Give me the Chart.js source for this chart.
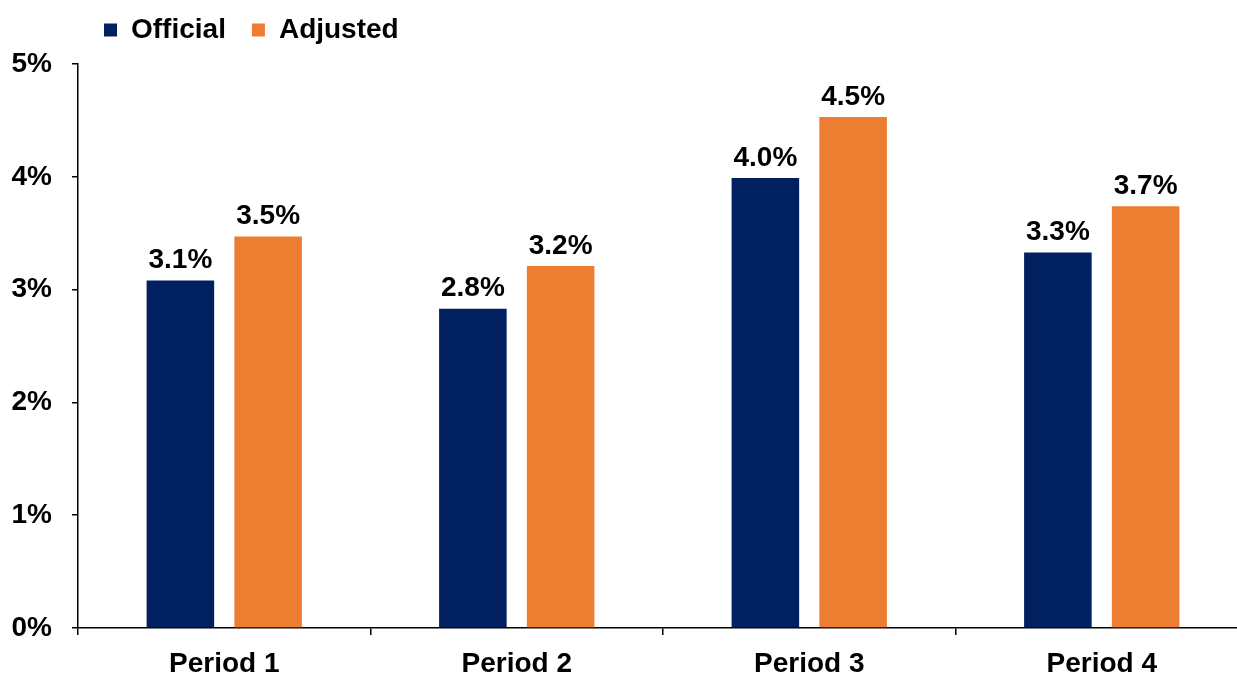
<!DOCTYPE html>
<html>
<head>
<meta charset="utf-8">
<title>Official vs Adjusted</title>
<script src="https://cdn.jsdelivr.net/npm/chart.js@4/dist/chart.umd.min.js"></script>
<style>
    html, body { margin: 0; padding: 0; background: #fff; overflow: hidden; }
    /* the plot runs a little past the right edge, as in the original */
    #wrap { width: 1237px; height: 677px; overflow: hidden; }
</style>
</head>
<body>
<div id="wrap"><canvas id="myBarChart" width="1248" height="677"></canvas></div>
<script>
// Chart data
const categories = ['Period 1', 'Period 2', 'Period 3', 'Period 4'];
const officialValues = [3.08, 2.83, 3.99, 3.33];
const adjustedValues = [3.47, 3.21, 4.53, 3.74];
const officialLabels = ['3.1%', '2.8%', '4.0%', '3.3%'];
const adjustedLabels = ['3.5%', '3.2%', '4.5%', '3.7%'];
const yTicks = [0, 1, 2, 3, 4, 5];

const FONT = '"Liberation Sans", Arial, sans-serif';

// Draw value labels above bars
const barLabels = {
    id: 'barLabels',
    afterDatasetsDraw(chart) {
        const ctx = chart.ctx;
        ctx.save();
        ctx.font = 'bold 28px ' + FONT;
        ctx.fillStyle = '#000';
        ctx.textAlign = 'center';
        ctx.textBaseline = 'bottom';
        chart.data.datasets.forEach((ds, i) => {
            const meta = chart.getDatasetMeta(i);
            meta.data.forEach((bar, j) => {
                ctx.fillText(ds.valueLabels[j], bar.x, bar.y - 6);
            });
        });
        ctx.restore();
    }
};

// Move the legend so it starts over the plot, a bit higher
const legendShift = {
    id: 'legendShift',
    beforeDraw(chart) {
        const lg = chart.legend;
        if (lg && !lg._shifted) {
            lg.left += 78;
            lg.right += 78;
            lg.top -= 10;
            lg.bottom -= 10;
            lg._shifted = true;
        }
    },
    afterUpdate(chart) {
        if (chart.legend) chart.legend._shifted = false;
    }
};

document.addEventListener('DOMContentLoaded', function() {
    const ctx = document.getElementById('myBarChart');
    new Chart(ctx, {
        type: 'bar',
        data: {
            labels: categories,
            datasets: [{
                label: 'Official',
                data: officialValues,
                valueLabels: officialLabels,
                backgroundColor: '#002060'
            }, {
                label: 'Adjusted',
                data: adjustedValues,
                valueLabels: adjustedLabels,
                backgroundColor: '#ED7D31'
            }]
        },
        options: {
            responsive: false,
            animation: false,
            devicePixelRatio: 1,
            categoryPercentage: 0.6,
            barPercentage: 0.77,
            layout: { padding: 0 },
            plugins: {
                legend: {
                    position: 'top',
                    align: 'start',
                    labels: {
                        color: '#000',
                        font: { family: FONT, size: 28, weight: 'bold' },
                        boxWidth: 13,
                        boxHeight: 13,
                        padding: 26
                    }
                },
                tooltip: { enabled: false }
            },
            scales: {
                y: {
                    min: 0,
                    max: 5,
                    afterBuildTicks: axis => {
                        axis.ticks = yTicks.map(v => ({ value: v }));
                    },
                    afterFit: axis => { axis.width = 78; },
                    border: { color: '#000', width: 1.5 },
                    grid: {
                        drawOnChartArea: false,
                        drawTicks: true,
                        tickLength: 6,
                        color: '#000',
                        lineWidth: 1.5
                    },
                    ticks: {
                        color: '#000',
                        padding: 20,
                        font: { family: FONT, size: 28, weight: 'bold' },
                        callback: v => v + '%'
                    }
                },
                x: {
                    afterFit: axis => { axis.height = 49; },
                    border: { color: '#000', width: 1.5 },
                    grid: {
                        drawOnChartArea: false,
                        drawTicks: true,
                        tickLength: 7,
                        color: '#000',
                        lineWidth: 1.5
                    },
                    ticks: {
                        color: '#000',
                        padding: 12,
                        font: { family: FONT, size: 28, weight: 'bold' }
                    }
                }
            }
        },
        plugins: [barLabels, legendShift]
    });
});
</script>
</body>
</html>
